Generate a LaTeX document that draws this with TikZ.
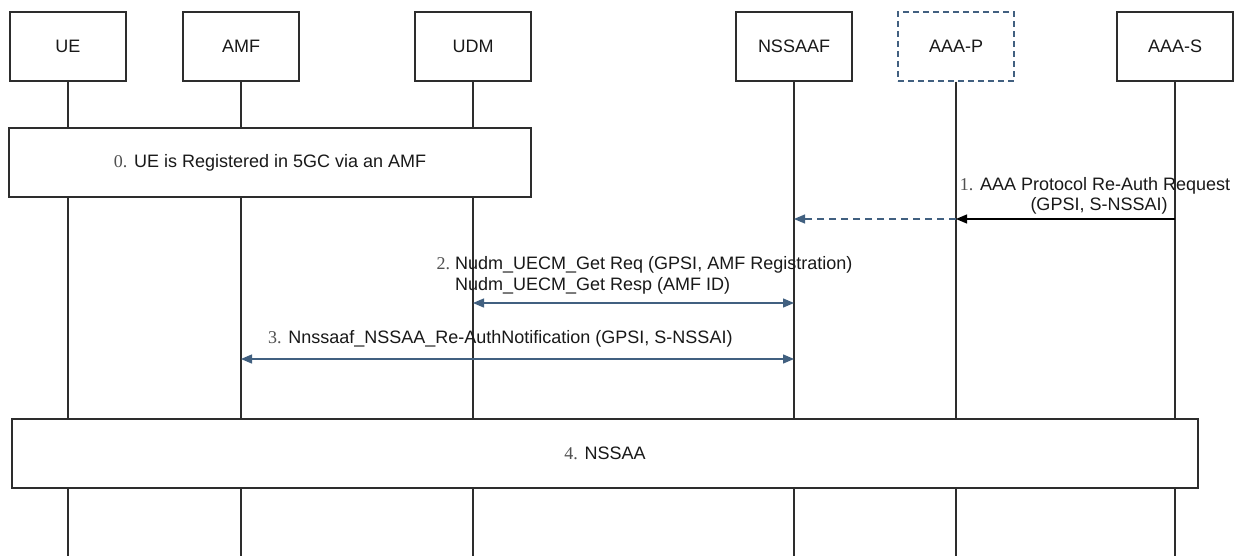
\documentclass[tikz,border=0pt]{standalone}
\usepackage{fontspec}
\setmainfont{Liberation Sans}
\newfontfamily\numf{Liberation Serif}
\usetikzlibrary{arrows.meta}
\definecolor{msgblue}{RGB}{65,96,128}
\definecolor{edgec}{RGB}{45,45,45}
\definecolor{numc}{RGB}{80,80,80}
\newcommand{\nm}[1]{{\numf\color{numc}#1}}
\begin{document}
\begin{tikzpicture}[x=1pt,y=-1pt,
  every node/.style={font=\fontsize{18}{21}\selectfont, inner sep=0pt, text=black!90},
  actor/.style={draw=edgec, line width=1.2pt, fill=white, minimum width=116pt, minimum height=69pt},
  proxy/.style={actor, draw=msgblue, dash pattern=on 6pt off 4pt},
  frame/.style={draw=edgec, line width=1.2pt, fill=white, minimum height=69pt},
  life/.style={draw=edgec, line width=1.1pt},
  solidmsg/.style={draw=black, line width=1.3pt, -{Triangle[length=11pt,width=9pt]}},
  dashmsg/.style={draw=msgblue, line width=1.3pt, dash pattern=on 7pt off 5pt, -{Triangle[length=11pt,width=9pt]}},
  bimsg/.style={draw=msgblue, line width=1.3pt, {Triangle[length=11pt,width=9pt]}-{Triangle[length=11pt,width=9pt]}}
]
\useasboundingbox[fill=white] (0,0) rectangle (1236,556);

% actors
\node[actor] (ue)   at (68,46.5)   {UE};
\node[actor] (amf)  at (241,46.5)  {AMF};
\node[actor] (udm)  at (473,46.5)  {UDM};
\node[actor] (nssaaf) at (794,46.5) {NSSAAF};
\node[proxy] (aaap) at (956,46.5)  {AAA-P};
\node[actor] (aaas) at (1175,46.5) {AAA-S};

% lifeline ends
\coordinate (ue-e)     at (ue.south |- 0,556);
\coordinate (amf-e)    at (amf.south |- 0,556);
\coordinate (udm-e)    at (udm.south |- 0,556);
\coordinate (nssaaf-e) at (nssaaf.south |- 0,556);
\coordinate (aaap-e)   at (aaap.south |- 0,556);
\coordinate (aaas-e)   at (aaas.south |- 0,556);
\foreach \n in {ue,amf,udm,nssaaf,aaap,aaas}
  \draw[life] (\n.south) -- (\n-e);

% step 0
\node[frame, minimum width=522pt] (reg) at (270,162.5)
  {\nm{0.} UE is Registered in 5GC via an AMF};

% step 1
\coordinate (m1s) at (aaas.south |- 0,219);
\coordinate (m1p) at (aaap.south |- 0,219);
\coordinate (m1n) at (nssaaf.south |- 0,219);
\draw[solidmsg] (m1s) -- (m1p);
\draw[dashmsg] (m1p) -- (m1n);
\node[anchor=base] (l1a) at (1095,190) {\nm{1.} AAA Protocol Re-Auth Request};
\node[anchor=base] (l1b) at (1099,211) {(GPSI, S-NSSAI)};

% step 2
\node[anchor=base west] (l2a) at (455,269) {\llap{\nm{2.}\ }Nudm\_UECM\_Get Req (GPSI, AMF Registration)};
\node[anchor=base west] (l2b) at (455,290) {Nudm\_UECM\_Get Resp (AMF ID)};
\coordinate (m2u) at (udm.south |- 0,303);
\coordinate (m2n) at (nssaaf.south |- 0,303);
\draw[bimsg] (m2u) -- (m2n);

% step 3
\node[anchor=base west] (l3) at (268,343) {\nm{3.} Nnssaaf\_NSSAA\_Re-AuthNotification (GPSI, S-NSSAI)};
\coordinate (m3a) at (amf.south |- 0,359);
\coordinate (m3n) at (nssaaf.south |- 0,359);
\draw[bimsg] (m3a) -- (m3n);

% step 4
\node[frame, minimum width=1186pt] (nssaa) at (605,453.5) {\nm{4.} NSSAA};
\end{tikzpicture}
\end{document}
